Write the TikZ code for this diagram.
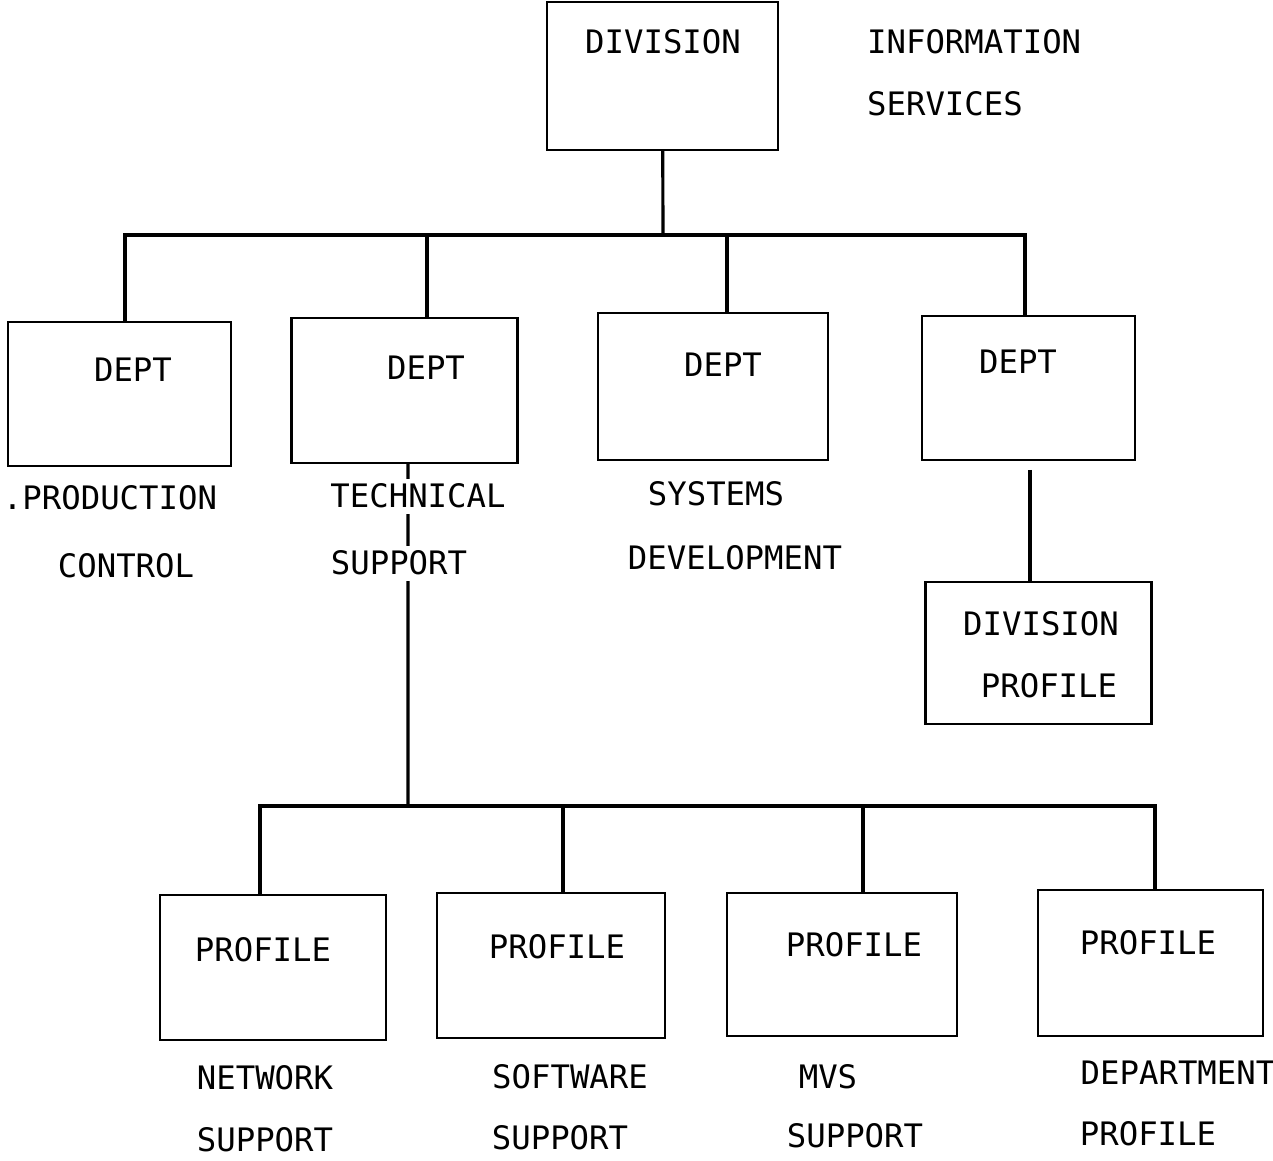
\documentclass[tikz,border=0pt]{standalone}
\usepackage{fontspec}
\setmonofont{DejaVu Sans Mono}
\usepackage{tikz}
\usetikzlibrary{calc}
\usetikzlibrary{positioning}

\begin{document}
\begin{tikzpicture}[x=0.02cm,y=-0.02cm,
      font=\ttfamily\fontsize{18.4}{22}\selectfont,
      unit style/.style={draw=black,line width=1.6pt,minimum width=4.52cm,
        minimum height=2.9cm,inner sep=0pt,outer sep=0pt},
      text style/.style={inner sep=1pt},
      cut style/.style={fill=white,inner sep=3pt},
      link style/.style={line width=1.8pt}
      ]
      \useasboundingbox (0,0) rectangle (1273,1160);
      % division
      \node[unit style,minimum width=4.62cm,minimum height=2.96cm] (div) at (662.5,76) {};
      \node[text style] (div name) at (663,42) {DIVISION};
      \node[text style,anchor=west] (info) at (865,42) {INFORMATION};
      \node[text style,anchor=west] (serv) at (865,104) {SERVICES};
      % departments
      \node[unit style,minimum width=4.46cm,minimum height=2.88cm] (d1) at (119.5,394) {};
      \node[text style] (d1 name) at (133,370) {DEPT};
      \node[unit style] (d2) at (404.5,390.5) {};
      \node[text style] (d2 name) at (426,368) {DEPT};
      \node[unit style,minimum width=4.6cm,minimum height=2.94cm] (d3) at (713,386.5) {};
      \node[text style] (d3 name) at (723,365) {DEPT};
      \node[unit style,minimum width=4.26cm,minimum height=2.88cm] (d4) at (1028.5,388) {};
      \node[text style] (d4 name) at (1018,362) {DEPT};
      \node[text style] (prod) at (110,498) {.PRODUCTION};
      \node[text style] (ctrl) at (126,566) {CONTROL};
      \node[text style] (sys) at (716,494) {SYSTEMS};
      \node[text style] (dev) at (735,558) {DEVELOPMENT};
      % division profile
      \node[unit style,minimum height=2.84cm] (dp) at (1038.5,653) {};
      \node[text style] (dp name) at (1041,624) {DIVISION};
      \node[text style] (dp prof) at (1049,686) {PROFILE};
      % profiles
      \node[unit style] (p1) at (273,967.5) {};
      \node[text style] (p1 name) at (263,950) {PROFILE};
      \node[unit style,minimum width=4.56cm] (p2) at (551,965.5) {};
      \node[text style] (p2 name) at (557,947) {PROFILE};
      \node[unit style,minimum width=4.6cm,minimum height=2.86cm] (p3) at (842,964.5) {};
      \node[text style] (p3 name) at (854,945) {PROFILE};
      \node[unit style,minimum width=4.5cm,minimum height=2.92cm] (p4) at (1150.5,963) {};
      \node[text style] (p4 name) at (1148,943) {PROFILE};
      \node[text style] (net) at (265,1078) {NETWORK};
      \node[text style] (net sup) at (265,1140) {SUPPORT};
      \node[text style] (soft) at (570,1077) {SOFTWARE};
      \node[text style] (soft sup) at (560,1138) {SUPPORT};
      \node[text style] (mvs) at (828,1077) {MVS};
      \node[text style] (mvs sup) at (855,1136) {SUPPORT};
      \node[text style] (dept) at (1178,1073) {DEPARTMENT};
      \node[text style] (dept prof) at (1148,1134) {PROFILE};
      % connectors
      \coordinate (top bus) at (663,235);
      \coordinate (low bus) at (408,806);
      \draw[link style] (div) -- (top bus);
      \draw[link style] ($(d1.north)+(5.5,0)$) |- (top bus);
      \draw[link style] ($(d2.north)+(22.5,0)$) |- (top bus);
      \draw[link style] ($(d3.north)+(14,0)$) |- (top bus);
      \draw[link style] ($(d4.north)+(-3.5,0)$) |- (top bus);
      \draw[link style] ($(d4.south)+(1.5,10)$) -- ($(d4.south |- dp.north)+(1.5,0)$);
      \draw[link style] ($(d2.south)+(3.5,0)$) -- (low bus);
      \draw[link style] ($(p1.north)+(-13,0)$) |- (low bus);
      \draw[link style] ($(p2.north)+(12,0)$) |- (low bus);
      \draw[link style] ($(p3.north)+(21,0)$) |- (low bus);
      \draw[link style] ($(p4.north)+(4.5,0)$) |- (low bus);
      \node[text style,cut style] (tech) at (418,496) {TECHNICAL};
      \node[text style,cut style] (tech sup) at (399,563) {SUPPORT};
    \end{tikzpicture}
\end{document}
